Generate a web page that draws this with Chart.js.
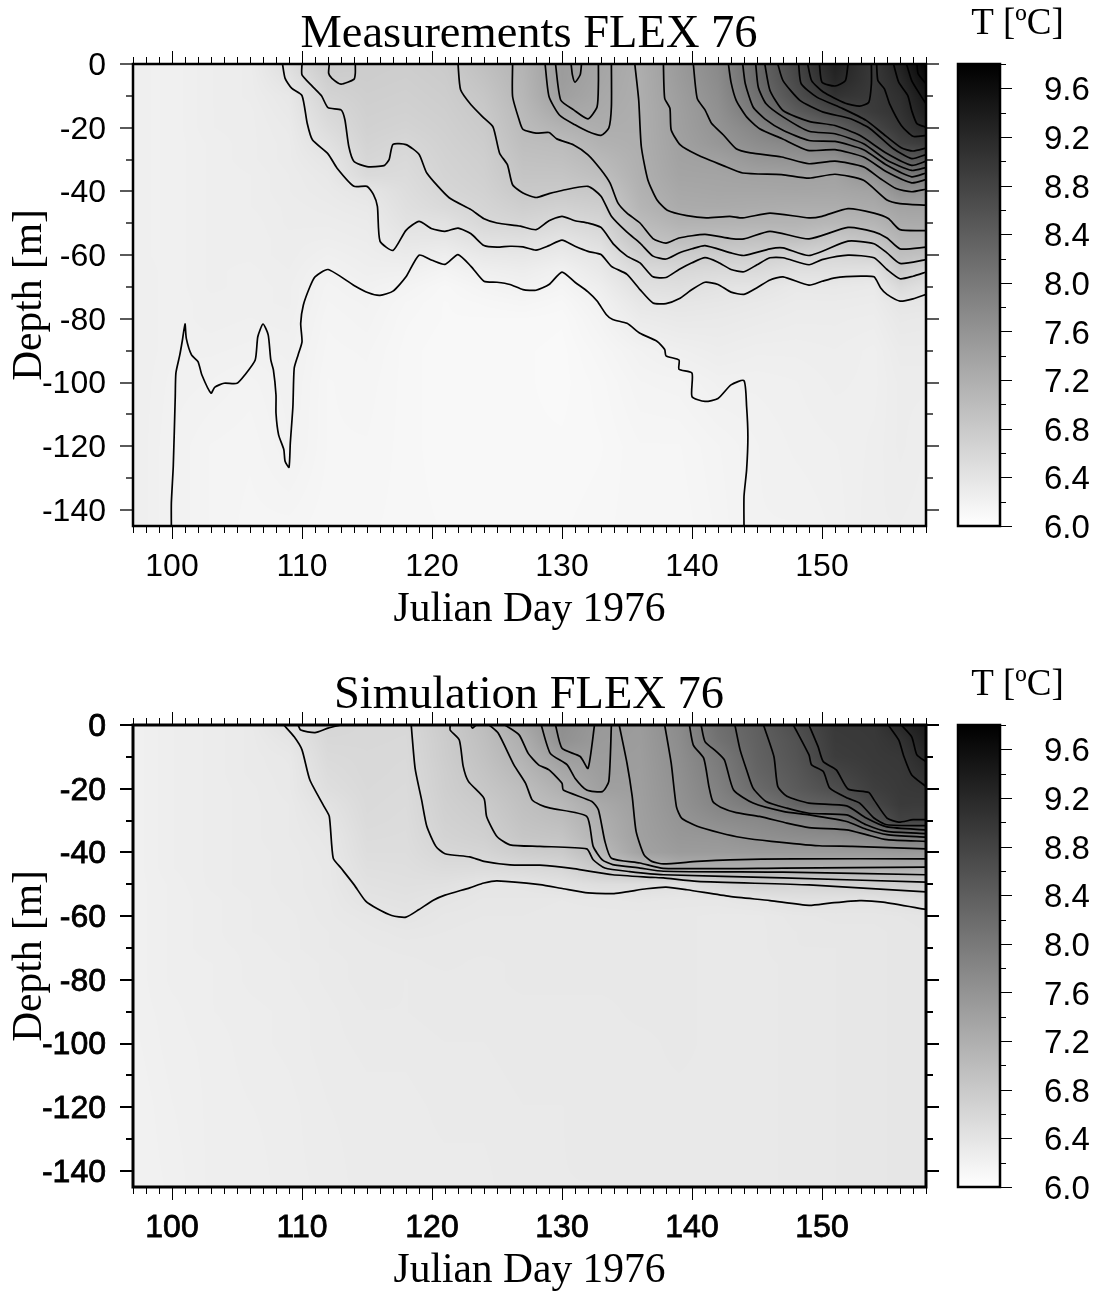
<!DOCTYPE html>
<html>
<head>
<meta charset="UTF-8">
<title>FLEX 76</title>
<style>
	html, body { margin: 0; padding: 0; background: #fff; }
	body { position: relative; width: 1095px; height: 1293px; overflow: hidden; }
	canvas { position: absolute; }
</style>
</head>
<body>
	<canvas id="measChart" width="1058" height="640" style="left:0;top:0"></canvas>
	<canvas id="measBar" width="155" height="640" style="left:940px;top:0"></canvas>
	<canvas id="simChart" width="1058" height="640" style="left:0;top:661px"></canvas>
	<canvas id="simBar" width="155" height="640" style="left:940px;top:661px"></canvas>

	<script src="https://cdn.jsdelivr.net/npm/chart.js"></script>
	<script>
		// axis values
		const dayTicks = [100, 110, 120, 130, 140, 150];
		const depthTicks = [0, -20, -40, -60, -80, -100, -120, -140];
		const dayMinorTicks = [97,98,99,101,102,103,104,105,106,107,108,109,111,112,113,114,115,116,117,118,119,121,122,123,124,125,126,127,128,129,131,132,133,134,135,136,137,138,139,141,142,143,144,145,146,147,148,149,151,152,153,154,155,156,157,158];
		const depthMinorTicks = [-10, -30, -50, -70, -90, -110, -130];
		const tempTicks = [6.0, 6.4, 6.8, 7.2, 7.6, 8.0, 8.4, 8.8, 9.2, 9.6];
		const tempMinorTicks = [6.2, 6.6, 7.0, 7.4, 7.8, 8.2, 8.6, 9.0, 9.4, 9.8];

		// temperature table, one list per day
		const days = [97,100,103,106,109,112,115,118,121,124,127,130,133,136,139,142,145,148,151,154,156,158];
		const depths = [0,-5,-10,-15,-20,-25,-30,-35,-40,-45,-50,-55,-60,-65,-70,-75,-80,-90,-100,-120,-145];

		const measField = [
			[6.24,6.24,6.24,6.24,6.24,6.24,6.24,6.24,6.24,6.24,6.24,6.24,6.24,6.25,6.25,6.25,6.25,6.25,6.25,6.25,6.25],
			[6.22,6.22,6.22,6.22,6.22,6.22,6.22,6.22,6.22,6.22,6.22,6.22,6.22,6.22,6.22,6.22,6.22,6.22,6.21,6.2,6.2],
			[6.26,6.26,6.26,6.26,6.26,6.25,6.25,6.25,6.25,6.25,6.25,6.25,6.25,6.25,6.25,6.24,6.24,6.22,6.2,6.17,6.17],
			[6.28,6.28,6.28,6.27,6.27,6.27,6.27,6.26,6.26,6.26,6.25,6.25,6.25,6.24,6.24,6.24,6.23,6.21,6.18,6.16,6.15],
			[6.5,6.42,6.35,6.33,6.31,6.3,6.3,6.29,6.29,6.28,6.28,6.27,6.27,6.26,6.25,6.25,6.24,6.22,6.21,6.2,6.15],
			[6.8,6.72,6.65,6.58,6.52,6.45,6.38,6.34,6.32,6.3,6.28,6.26,6.23,6.2,6.18,6.17,6.16,6.15,6.14,6.14,6.13],
			[6.75,6.74,6.72,6.7,6.68,6.65,6.61,6.55,6.38,6.33,6.3,6.28,6.26,6.24,6.21,6.19,6.18,6.16,6.15,6.14,6.13],
			[6.74,6.72,6.7,6.68,6.65,6.6,6.56,6.53,6.5,6.47,6.43,6.37,6.3,6.23,6.17,6.14,6.13,6.12,6.12,6.12,6.12],
			[6.78,6.76,6.74,6.72,6.7,6.68,6.66,6.64,6.61,6.55,6.44,6.36,6.26,6.17,6.12,6.11,6.11,6.1,6.1,6.1,6.11],
			[6.95,6.9,6.85,6.81,6.78,6.75,6.72,6.7,6.67,6.63,6.58,6.46,6.34,6.24,6.17,6.13,6.11,6.1,6.1,6.1,6.11],
			[7.12,7.1,7.08,7.04,7.01,6.97,6.92,6.87,6.81,6.72,6.62,6.48,6.36,6.27,6.21,6.15,6.11,6.1,6.1,6.1,6.11],
			[7.48,7.47,7.43,7.3,7.14,7.0,6.94,6.87,6.8,6.68,6.55,6.41,6.31,6.21,6.16,6.12,6.1,6.09,6.09,6.1,6.11],
			[7.35,7.33,7.3,7.27,7.22,7.15,7.05,6.96,6.83,6.73,6.62,6.51,6.39,6.33,6.26,6.21,6.18,6.14,6.12,6.11,6.12],
			[7.22,7.21,7.21,7.2,7.2,7.2,7.19,7.18,7.15,7.1,7.0,6.9,6.72,6.55,6.45,6.36,6.3,6.2,6.17,6.14,6.14],
			[7.5,7.48,7.45,7.43,7.42,7.4,7.38,7.35,7.3,7.25,7.14,6.98,6.76,6.58,6.48,6.38,6.33,6.24,6.18,6.14,6.13],
			[7.75,7.72,7.68,7.64,7.6,7.55,7.42,7.36,7.32,7.26,7.13,6.96,6.75,6.55,6.42,6.36,6.32,6.27,6.22,6.17,6.16],
			[8.25,8.22,8.14,8.02,7.82,7.7,7.56,7.39,7.32,7.24,7.12,6.92,6.72,6.55,6.4,6.33,6.3,6.25,6.22,6.2,6.2],
			[8.78,8.72,8.62,8.43,8.14,7.8,7.6,7.4,7.33,7.22,7.12,6.95,6.65,6.47,6.33,6.3,6.28,6.25,6.23,6.22,6.2],
			[9.33,9.23,9.05,8.72,8.35,7.95,7.63,7.38,7.32,7.22,7.06,6.82,6.6,6.46,6.34,6.3,6.28,6.26,6.25,6.23,6.22],
			[8.95,8.95,8.95,8.93,8.75,8.43,7.95,7.62,7.37,7.26,7.1,6.9,6.66,6.43,6.32,6.29,6.27,6.24,6.24,6.25,6.26],
			[9.3,9.19,9.1,9.05,8.98,8.82,8.4,7.97,7.65,7.37,7.25,7.1,6.95,6.78,6.55,6.38,6.34,6.3,6.28,6.28,6.26],
			[9.75,9.62,9.47,9.36,9.2,8.92,8.5,8.0,7.6,7.38,7.26,7.12,6.92,6.62,6.45,6.37,6.33,6.3,6.28,6.26,6.25]
		];

		const simField = [
			[6.22,6.22,6.22,6.22,6.22,6.22,6.22,6.22,6.22,6.22,6.22,6.22,6.22,6.22,6.22,6.22,6.22,6.22,6.21,6.2,6.2],
			[6.26,6.26,6.26,6.26,6.26,6.26,6.26,6.26,6.26,6.26,6.25,6.25,6.25,6.25,6.25,6.25,6.25,6.24,6.24,6.23,6.22],
			[6.28,6.28,6.28,6.28,6.28,6.28,6.28,6.28,6.28,6.28,6.28,6.27,6.27,6.27,6.27,6.26,6.26,6.26,6.25,6.25,6.25],
			[6.31,6.31,6.31,6.31,6.3,6.3,6.3,6.3,6.3,6.3,6.3,6.29,6.29,6.29,6.28,6.28,6.28,6.27,6.27,6.26,6.25],
			[6.45,6.38,6.34,6.33,6.33,6.32,6.32,6.32,6.31,6.31,6.31,6.31,6.3,6.3,6.3,6.29,6.29,6.28,6.28,6.27,6.27],
			[6.62,6.58,6.55,6.52,6.49,6.43,6.39,6.36,6.35,6.34,6.34,6.33,6.33,6.32,6.32,6.31,6.31,6.3,6.3,6.29,6.28],
			[6.58,6.58,6.57,6.57,6.56,6.55,6.54,6.52,6.5,6.47,6.44,6.41,6.36,6.34,6.33,6.33,6.33,6.32,6.31,6.3,6.3],
			[6.58,6.57,6.56,6.55,6.54,6.53,6.52,6.51,6.5,6.48,6.46,6.43,6.4,6.36,6.34,6.33,6.32,6.32,6.31,6.3,6.3],
			[6.78,6.76,6.75,6.73,6.72,6.7,6.68,6.65,6.6,6.53,6.45,6.39,6.36,6.35,6.34,6.34,6.33,6.33,6.32,6.31,6.3],
			[6.98,6.95,6.92,6.88,6.84,6.78,6.74,6.7,6.63,6.52,6.39,6.36,6.35,6.34,6.34,6.33,6.33,6.33,6.32,6.31,6.3],
			[7.32,7.2,7.14,7.06,6.98,6.94,6.9,6.85,6.74,6.56,6.39,6.36,6.35,6.35,6.34,6.34,6.34,6.33,6.33,6.32,6.32],
			[7.68,7.64,7.45,7.3,7.18,7.05,6.97,6.88,6.78,6.6,6.44,6.35,6.34,6.34,6.34,6.34,6.34,6.33,6.33,6.32,6.32],
			[7.52,7.5,7.48,7.46,7.42,7.28,7.2,7.15,7.03,6.82,6.5,6.36,6.34,6.34,6.34,6.34,6.34,6.33,6.33,6.33,6.32],
			[7.48,7.47,7.46,7.45,7.44,7.43,7.42,7.41,7.38,7.0,6.5,6.37,6.34,6.34,6.34,6.34,6.34,6.34,6.33,6.33,6.33],
			[7.72,7.7,7.68,7.66,7.64,7.62,7.58,7.54,7.48,7.2,6.45,6.36,6.34,6.34,6.34,6.34,6.34,6.34,6.34,6.33,6.33],
			[8.15,8.1,7.98,7.93,7.88,7.82,7.7,7.56,7.48,7.18,6.58,6.36,6.33,6.33,6.33,6.33,6.33,6.33,6.33,6.33,6.33],
			[8.38,8.36,8.34,8.3,8.22,8.0,7.76,7.65,7.5,7.17,6.7,6.39,6.33,6.33,6.33,6.33,6.33,6.33,6.33,6.33,6.33],
			[8.65,8.58,8.55,8.5,8.45,8.32,7.86,7.7,7.5,7.18,6.63,6.44,6.36,6.35,6.35,6.34,6.34,6.34,6.34,6.34,6.34],
			[8.95,8.93,8.9,8.78,8.65,8.4,7.98,7.72,7.5,7.18,6.65,6.43,6.37,6.36,6.35,6.35,6.35,6.35,6.35,6.35,6.35],
			[8.97,8.96,8.95,8.93,8.88,8.75,8.5,7.8,7.5,7.18,6.68,6.42,6.37,6.36,6.36,6.36,6.36,6.36,6.36,6.36,6.36],
			[9.2,9.05,8.98,8.96,8.95,8.93,8.82,7.95,7.52,7.2,6.7,6.45,6.38,6.37,6.37,6.37,6.37,6.37,6.37,6.37,6.37],
			[9.4,9.32,9.2,9.08,8.98,8.92,8.8,8.0,7.5,7.18,6.7,6.5,6.39,6.38,6.38,6.37,6.37,6.37,6.37,6.37,6.37]
		];

		// measured isotherms, [day, depth], named by temperature
		const m62 = [[99.95,-145],[99.95,-137.8],[100.1,-126],[100.25,-104.4],[100.3,-97],[100.6,-91.3],[100.8,-86.7],[101,-81.6],[101.1,-86.1],[101.5,-91.3],[102,-93.4],[102.3,-97.6],[103,-103.3],[103.3,-101.4],[104,-100.2],[105,-100.2],[105.6,-97.6],[106.4,-92.9],[106.6,-85.6],[107,-81.6],[107.4,-85],[107.6,-92.9],[107.8,-96],[108,-103.9],[108,-109.6],[108.2,-116.4],[108.6,-121],[108.7,-124.7],[109,-126.6],[109.1,-119],[109.3,-107.5],[109.4,-95.5],[109.7,-91.3],[110,-87.2],[109.9,-81.4],[110.1,-75.7],[110.6,-70],[111,-66.8],[112,-64.5],[114,-69.5],[115.1,-71.8],[116,-72.6],[117,-71.3],[118,-66.8],[119,-60],[120,-61.6],[121,-62.9],[122,-59.8],[123,-63.5],[124,-68.2],[125,-68.5],[126,-69.2],[127,-70.8],[128,-71],[129,-69.2],[130,-65.3],[131,-68.5],[132,-71.5],[132.7,-74.4],[133.4,-78.6],[133.9,-80.2],[135,-81.4],[136,-84.5],[137.3,-87],[137.9,-89.6],[138,-91.6],[139,-92.9],[139,-95.8],[140,-97],[140,-104.4],[141,-105.9],[142,-105],[143,-100.7],[144,-99.4],[144.2,-107.5],[144.3,-116.9],[144.2,-127.4],[144,-135.7],[144,-145]];
		const m64 = [[108.5,0],[108.7,-4.5],[109.2,-7.6],[110,-9.9],[110.4,-18.6],[110.8,-23.8],[112,-28.2],[112.7,-32.7],[114,-38.4],[115,-38.4],[115.5,-41],[115.8,-44.7],[116,-55.6],[117,-58.5],[118,-52.2],[119,-49.4],[120,-51.7],[121,-52.5],[122,-51.5],[123,-53.3],[124,-57],[125,-57.5],[126,-57.2],[127,-57.4],[128,-58.4],[129,-57],[130,-55.3],[131,-57.2],[132,-58.8],[133,-59.8],[133.8,-63.5],[135,-66],[136,-70.8],[137,-75],[138,-75.2],[139,-73.7],[140,-70.8],[141,-68.5],[142,-69.2],[143,-71.6],[144,-72.3],[145,-70.2],[146,-67.8],[147,-66.8],[149,-69.4],[150,-68.2],[151,-67.1],[153,-66.6],[154,-66.8],[154.5,-70.2],[155,-72.3],[156,-74.4],[157,-73.7],[158,-72.3]];
		const m66 = [[110,0],[110,-3.4],[110.8,-7],[111.5,-10],[112,-13.7],[113,-14.4],[113.3,-17.5],[113.6,-25.9],[114,-30.6],[115,-32.2],[116.3,-31.9],[116.7,-30],[117,-25.2],[118,-25.3],[119,-28.3],[119.6,-34.2],[121.3,-41.9],[123,-45.7],[124,-48.6],[125,-49.9],[126.8,-50.9],[128,-52],[129,-49.2],[130,-47.8],[131,-49.2],[132,-49.9],[133,-51.3],[134,-56.7],[135,-60.3],[136,-62.4],[137,-66.8],[138,-67],[139,-64.5],[140,-62.4],[141,-60.8],[142,-62.2],[143,-64.5],[144,-65.2],[145,-63],[146,-60.8],[147,-60.8],[149,-63],[150,-61.4],[152,-60],[154,-60.8],[155,-64.5],[156,-67.4],[157,-66.6],[158,-65.3]];
		const m68 = [[122,0],[122.2,-8.1],[123,-12.8],[124,-17],[124.7,-19.8],[125.2,-28],[125.8,-31.6],[126.2,-37.9],[127,-40.5],[128,-41.9],[129,-40.7],[130,-39.7],[132,-38.4],[133,-41.5],[133.8,-47.8],[135,-52.8],[136,-56.2],[137,-60.3],[138,-61.2],[139,-59.3],[140,-58],[141,-57],[143,-59.3],[144,-60.1],[146,-58],[147,-57.7],[149,-60.1],[152,-55.6],[154,-56.4],[155,-59.3],[156,-62.6],[158,-61.4]];
		const m68Blob = [[112.1,0],[112.05,-2.9],[112.3,-4.5],[113,-6.3],[114,-4.8],[114.1,-2.9],[114.1,0]];
		const m70 = [[126.2,0],[126.2,-10.2],[126.7,-17.5],[127,-20.5],[128,-21.7],[129,-21.5],[129.6,-23.5],[130.9,-25.4],[132,-28.5],[133,-33.2],[133.7,-37.4],[134.3,-43.6],[135,-46.8],[136,-49.9],[137,-54.8],[138,-56.2],[139,-54.6],[141,-53.5],[143,-54.8],[144,-54.9],[146,-52.5],[149,-54.9],[152,-51.3],[154,-52.7],[155,-54.6],[156,-58],[158,-57.5]];
		const m72Loop = [[128.7,0],[129,-10.2],[129.8,-16],[131,-19.1],[132,-21.2],[133,-22.4],[133.6,-20.1],[133.8,-13.4],[133.8,0]];
		const m74Loop = [[129.5,0],[129.9,-11.3],[130.9,-14.4],[132,-17.2],[132.7,-13.4],[132.8,-6],[132.8,0]];
		const m76Loop = [[130.7,0],[130.8,-3.4],[131,-5.7],[131.4,-3.4],[131.5,0]];
		const m72 = [[135.6,0],[135.9,-11.3],[136.1,-25.9],[136.6,-36.3],[137.3,-42.6],[138.1,-45.9],[139.6,-47.6],[141.1,-48.3],[142.9,-47.8],[143.9,-48.3],[146,-46.8],[149,-48.3],[150,-47.8],[152,-45.4],[154,-46.8],[155.1,-48.5],[156,-52],[158,-52.3]];
		const m74 = [[137.8,0],[137.9,-10.8],[138.3,-13.9],[138.4,-20.7],[139.1,-25.4],[140.4,-28.5],[142.4,-31.9],[143.9,-34.2],[146.9,-34.7],[149,-35.8],[151,-34.6],[153.2,-36.5],[155,-42.7],[156,-43.8],[158,-44.3]];
		const m76 = [[140.1,0],[140.4,-10.8],[141,-14.4],[141.5,-18.6],[142.4,-22.2],[143.4,-26.6],[144.5,-27.9],[146.9,-29.2],[149,-31.3],[151,-30.5],[153.2,-32.3],[154.5,-36],[155.7,-39.1],[156.9,-40.1],[158,-39.3]];
		const m78 = [[142.8,0],[143,-5.7],[143.4,-11.4],[144.2,-16.6],[145.2,-20.3],[146.9,-23.4],[148.9,-27.1],[151,-26.9],[153.2,-29.2],[155,-33.9],[156.9,-37.3],[158,-36.3]];
		const m80 = [[143.9,0],[144.1,-6.2],[144.7,-13.5],[145.6,-17.2],[147,-20.8],[149,-24],[151,-24.3],[153.2,-26.9],[155,-31.8],[156.9,-35.4],[158,-34.2]];
		const m82 = [[144.9,0],[145.1,-7.3],[145.7,-12.5],[147,-16.6],[149,-21.1],[151,-21.9],[153.2,-25],[155,-30.2],[156.9,-33.4],[158,-32.5]];
		const m84 = [[145.6,0],[146,-8.3],[147,-14.6],[149,-18],[151,-19.3],[152.9,-22.4],[155,-28.1],[156.9,-31.8],[158,-30.5]];
		const m86 = [[146.6,0],[147,-5.2],[148.3,-11.4],[150.1,-15.1],[152.2,-17.2],[153.7,-20.3],[155.5,-26.6],[156.9,-29.7],[158,-28.4]];
		const m88 = [[148.2,0],[148.4,-6.2],[149.6,-10.4],[151.6,-14],[153.4,-17.7],[154.7,-21.9],[156.1,-26.3],[157,-27.3],[158,-26.4]];
		const m90Loop = [[148.9,0],[149.2,-5.2],[150.1,-8.8],[151.8,-12.3],[152.9,-13.2],[153.6,-12],[153.8,-6.2],[153.8,0]];
		const m92Blob = [[149.8,0],[150,-5.7],[151,-6.9],[151.8,-5.2],[152,0]];
		const m90 = [[154.2,0],[154.3,-5.2],[154.8,-7.8],[155.2,-12.5],[156.1,-19.3],[157,-22.7],[158,-22.4]];
		const m92 = [[155.5,0],[155.9,-5.7],[156.6,-9.9],[156.9,-14.6],[157.3,-18.7],[158,-19.8]];
		const m94 = [[156.5,0],[156.9,-5.2],[157.5,-9.3],[158,-12.5]];
		const m96 = [[157.3,0],[157.4,-3.1],[158,-6.2]];
		const measLines = [m62,m64,m66,m68,m68Blob,m70,m72Loop,m74Loop,m76Loop,m72,m74,m76,m78,m80,m82,m84,m86,m88,m90Loop,m92Blob,m90,m92,m94,m96];

		// simulated isotherms
		const s64 = [[108.6,0],[109.4,-3.7],[110,-7.8],[110.6,-17.2],[111.7,-25.6],[112.1,-28.7],[112.4,-41.8],[113,-44.9],[114,-50.1],[114.9,-55.3],[115.8,-57.7],[116.9,-59.8],[118,-60.3],[119,-57.9],[120.1,-55],[121,-53.4],[122.9,-51.1],[124,-49.6],[125,-48.9],[128.3,-50.1],[130.1,-51.4],[132,-52.7],[134,-52.9],[135.2,-52.2],[136.5,-51.4],[138,-50.9],[139.6,-51.7],[142.9,-53.8],[146,-55.1],[149,-56.6],[150.6,-55.9],[152.9,-55.1],[154.7,-55.6],[158,-57.9]];
		const s66Blob = [[109.7,0],[109.9,-1.6],[111,-2.4],[112,-1],[113,0]];
		const s66 = [[118.4,0],[118.7,-13.6],[119.2,-23.5],[119.6,-31.8],[120.3,-38.1],[121,-40.4],[122.9,-41.4],[124,-42.8],[126,-43.9],[128.3,-44],[130.9,-45.1],[133.9,-47],[136.9,-47.8],[137.8,-48],[140.4,-49.1],[149,-50.2],[158,-52.4]];
		const s66Notch = [[123,0],[123.1,-1],[123.4,0]];
		const s68 = [[121.4,0],[121.4,-1.6],[122.1,-4.7],[122.4,-13],[122.8,-17.7],[124,-23],[124.2,-28.7],[125,-35],[126,-37.6],[128.3,-38.1],[131.9,-38.9],[132.4,-42.3],[133.3,-44.9],[135.2,-46],[137.8,-47],[147,-48],[158,-49.3]];
		const s70 = [[124.4,0],[125.1,-2.6],[126.3,-12.5],[127.2,-18.3],[127.7,-23.5],[128.3,-25],[129.1,-26.1],[131.9,-28.7],[132.4,-38.1],[133.1,-42.3],[133.9,-43.8],[136,-44.9],[137.8,-45.9],[147,-46.2],[158,-47]];
		const s72 = [[125.6,0],[126.7,-3.1],[127.4,-8.9],[128.2,-12.5],[129,-14.1],[130,-18.3],[130.1,-20.4],[132.3,-24],[132.8,-26.6],[133.3,-36.5],[133.8,-41.8],[136,-43.3],[137.8,-45],[147,-44.9],[158,-44.6]];
		const s74Loop = [[128.4,0],[129.1,-8.9],[130.4,-12.5],[131,-16.7],[131.9,-20.4],[133.1,-20.9],[133.6,-17.7],[133.8,0]];
		const s76Loop = [[129.5,0],[130,-7.3],[131.4,-9.9],[132,-13.6],[132.5,0]];
		const s74 = [[134.4,0],[135,-12],[135.4,-22.4],[135.7,-33.4],[136.3,-40.7],[136.9,-42.8],[137.8,-43.6],[140.4,-42.8],[142.9,-42.3],[147.8,-42],[158,-42]];
		const s76 = [[137.9,0],[138.4,-12],[138.8,-25.6],[139.2,-29.2],[140.4,-31.8],[142.2,-33.9],[143.8,-35.3],[146.1,-36.5],[149.8,-37.9],[152.3,-38.1],[158,-38.9]];
		const s78 = [[139.8,0],[140.1,-6.3],[140.9,-10.4],[141.3,-19.3],[141.6,-24],[142.2,-25.8],[143.4,-27.5],[145.2,-28.7],[147.3,-30.8],[149,-32.2],[151.9,-32.9],[153.4,-34.4],[155,-36],[158,-36.5]];
		const s80 = [[140.7,0],[141,-5.2],[141.9,-8.4],[142.5,-11],[143.2,-20.4],[144.7,-24.5],[147,-27.1],[149,-28.2],[151.9,-30.3],[153.4,-32.7],[155,-34.4],[158,-35.2]];
		const s82 = [[143.3,0],[143.7,-7.8],[144.2,-14.1],[144.7,-19.8],[145.7,-24],[147.3,-26.1],[149,-27.7],[151.9,-28.2],[153.4,-31.3],[155,-33.4],[158,-34.1]];
		const s84 = [[145.5,0],[146.3,-9.9],[146.6,-19.3],[147.3,-22.4],[149,-24.5],[151.9,-25.4],[153.4,-29.2],[155,-32],[158,-32.9]];
		const s86 = [[147.8,0],[149,-9.4],[149.2,-12.5],[150.1,-14.6],[150.6,-19.8],[152,-23],[152.9,-24.5],[154,-29.2],[155,-31.3],[158,-31.6]];
		const s88 = [[149,0],[149.7,-6.8],[150.1,-11.5],[151.1,-14.1],[152,-20.1],[153.6,-21.2],[154,-23.5],[155,-29.2],[155.9,-30.5],[157,-29.7],[158,-29.7]];
		const s90 = [[155.1,0],[155.9,-4.7],[156.3,-9.9],[156.9,-15.7],[158,-19.3]];
		const s92 = [[156.1,0],[156.9,-3.7],[157.3,-9.4],[158,-11.5]];
		const simLines = [s64,s66Blob,s66,s66Notch,s68,s70,s72,s74Loop,s76Loop,s74,s76,s78,s80,s82,s84,s86,s88,s90,s92];

		const tempMin = 6.0;
		const tempMax = 9.8;

		function greyOf(t) {
			return Math.max(0, Math.min(255, Math.round(255 * (1 - (t - tempMin) / (tempMax - tempMin)))));
		}

		function findCell(list, v, descending) {
			for (let i = 0; i < list.length - 1; i++) {
				if (descending ? v >= list[i + 1] : v <= list[i + 1]) return i;
			}
			return list.length - 2;
		}

		function tempAt(field, day, depth) {
			const i = findCell(days, day, false);
			const j = findCell(depths, depth, true);
			const u = (day - days[i]) / (days[i + 1] - days[i]);
			const v = (depth - depths[j]) / (depths[j + 1] - depths[j]);
			const top = field[i][j] * (1 - u) + field[i + 1][j] * u;
			const bot = field[i][j + 1] * (1 - u) + field[i + 1][j + 1] * u;
			return top * (1 - v) + bot * v;
		}

		// grey field behind the isotherms
		const fieldPlugin = {
			id: 'tempField',
			beforeDatasetsDraw(chart, args, opts) {
				const a = chart.chartArea;
				const xs = chart.scales.x, ys = chart.scales.y;
				const off = document.createElement('canvas');
				off.width = Math.round(a.right - a.left);
				off.height = Math.round(a.bottom - a.top);
				const octx = off.getContext('2d');
				const img = octx.createImageData(off.width, off.height);
				for (let py = 0; py < off.height; py++) {
					const depth = ys.getValueForPixel(a.top + py + 0.5);
					for (let px = 0; px < off.width; px++) {
						const day = xs.getValueForPixel(a.left + px + 0.5);
						const g = greyOf(tempAt(opts.field, day, depth));
						const k = (py * off.width + px) * 4;
						img.data[k] = g; img.data[k + 1] = g; img.data[k + 2] = g; img.data[k + 3] = 255;
					}
				}
				octx.putImageData(img, 0, 0);
				chart.ctx.drawImage(off, a.left, a.top);
			}
		};

		// frame and outward ticks, on all four sides
		const framePlugin = {
			id: 'frameTicks',
			afterDraw(chart, args, opts) {
				const ctx = chart.ctx, a = chart.chartArea;
				const xs = chart.scales.x, ys = chart.scales.y;
				ctx.save();
				ctx.strokeStyle = '#000';
				function tick(x1, y1, x2, y2, w) {
					ctx.lineWidth = w;
					ctx.beginPath();
					ctx.moveTo(x1, y1);
					ctx.lineTo(x2, y2);
					ctx.stroke();
				}
				dayMinorTicks.forEach(function(d) {
					const x = Math.round(xs.getPixelForValue(d)) + 0.5;
					tick(x, a.bottom, x, a.bottom + 7, 1);
					tick(x, a.top, x, a.top - 7, 1);
				});
				dayTicks.forEach(function(d) {
					const x = Math.round(xs.getPixelForValue(d)) + 0.5;
					tick(x, a.bottom, x, a.bottom + 13, 1);
					tick(x, a.top, x, a.top - 13, 1);
				});
				depthMinorTicks.forEach(function(d) {
					const y = Math.round(ys.getPixelForValue(d));
					tick(a.left, y, a.left - 7, y, opts.tickWidth);
					tick(a.right, y, a.right + 7, y, opts.tickWidth);
				});
				depthTicks.forEach(function(d) {
					const y = Math.round(ys.getPixelForValue(d));
					tick(a.left, y, a.left - 13, y, opts.tickWidth);
					tick(a.right, y, a.right + 13, y, opts.tickWidth);
				});
				ctx.lineWidth = opts.frameWidth;
				ctx.strokeRect(a.left, a.top, a.right - a.left, a.bottom - a.top);
				ctx.restore();
			}
		};

		const barTickPlugin = {
			id: 'barTicks',
			afterDraw(chart) {
				const ctx = chart.ctx, a = chart.chartArea, ys = chart.scales.y;
				ctx.save();
				ctx.strokeStyle = '#000';
				ctx.lineWidth = 1;
				tempMinorTicks.forEach(function(t) {
					const y = Math.round(ys.getPixelForValue(t)) + 0.5;
					ctx.beginPath(); ctx.moveTo(a.right, y); ctx.lineTo(a.right + 6, y); ctx.stroke();
				});
				tempTicks.forEach(function(t) {
					const y = Math.round(ys.getPixelForValue(t)) + 0.5;
					ctx.beginPath(); ctx.moveTo(a.right, y); ctx.lineTo(a.right + 12, y); ctx.stroke();
				});
				ctx.lineWidth = 2.5;
				ctx.strokeRect(a.left, a.top, a.right - a.left, a.bottom - a.top);
				ctx.restore();
			}
		};

		function makePanel(id, titleText, lines, field, heavy) {
			const datasets = lines.map(function(line) {
				return {
					data: line.map(function(p) { return { x: p[0], y: p[1] }; }),
					yAxisID: 'y',
					showLine: true,
					borderColor: '#000',
					borderWidth: 1.7,
					pointRadius: 0,
					tension: 0.2
				};
			});
			const tickFont = { family: '"Liberation Sans"', size: 32 };
			const stroke = heavy ? 0.8 : 0;
			return new Chart(document.getElementById(id), {
				type: 'scatter',
				data: { datasets: datasets },
				plugins: [fieldPlugin, framePlugin],
				options: {
					responsive: false,
					animation: false,
					events: [],
					plugins: {
						legend: { display: false },
						tooltip: { enabled: false },
						title: {
							display: true,
							text: titleText,
							color: '#000',
							font: { family: '"Liberation Serif"', size: 46.5, weight: 'normal', lineHeight: 1 },
							padding: { top: 11.5, bottom: 6 }
						},
						tempField: { field: field },
						frameTicks: { tickWidth: heavy ? 2 : 1.3, frameWidth: heavy ? 3 : 2.5 }
					},
					scales: {
						x: {
							type: 'linear',
							min: 97,
							max: 158,
							afterBuildTicks: function(s) { s.ticks = dayTicks.map(function(v) { return { value: v }; }); },
							afterFit: function(s) { s.height = 114; },
							grid: { display: false, drawTicks: false },
							border: { display: false },
							ticks: { color: '#000', font: tickFont, padding: 22, maxRotation: 0, autoSkip: false, textStrokeColor: '#000', textStrokeWidth: stroke },
							title: {
								display: true,
								text: 'Julian Day 1976',
								color: '#000',
								font: { family: '"Liberation Serif"', size: 41.5, lineHeight: 1 },
								padding: { top: 0, bottom: 9 }
							}
						},
						y: {
							type: 'linear',
							min: -145,
							max: 0,
							afterBuildTicks: function(s) { s.ticks = depthTicks.map(function(v) { return { value: v }; }); },
							afterFit: function(s) { s.width = 133; },
							grid: { display: false, drawTicks: false },
							border: { display: false },
							ticks: { color: '#000', font: tickFont, padding: 27, labelOffset: 2, autoSkip: false, textStrokeColor: '#000', textStrokeWidth: stroke },
							title: {
								display: true,
								text: 'Depth [m]',
								color: '#000',
								font: { family: '"Liberation Serif"', size: 41.5, lineHeight: 1 },
								padding: { top: 9, bottom: 0 }
							}
						},
						// empty axis, keeps the title centred over the plot
						yRight: {
							type: 'linear',
							position: 'right',
							display: true,
							afterFit: function(s) { s.width = 132; },
							grid: { display: false, drawTicks: false },
							border: { display: false },
							ticks: { display: false }
						}
					}
				}
			});
		}

		function makeBar(id) {
			return new Chart(document.getElementById(id), {
				type: 'bar',
				data: {
					labels: ['T'],
					datasets: [{
						data: [[tempMin, tempMax]],
						yAxisID: 'y',
						barPercentage: 1,
						categoryPercentage: 1,
						backgroundColor: function(c) {
							const ys = c.chart.scales.y;
							if (!c.chart.chartArea || !ys) return '#888';
							const g = c.chart.ctx.createLinearGradient(0, ys.getPixelForValue(tempMin), 0, ys.getPixelForValue(tempMax));
							g.addColorStop(0, '#fff');
							g.addColorStop(1, '#000');
							return g;
						}
					}]
				},
				plugins: [barTickPlugin],
				options: {
					responsive: false,
					animation: false,
					events: [],
					layout: { padding: { bottom: 114 } },
					plugins: {
						legend: { display: false },
						tooltip: { enabled: false },
						title: {
							display: true,
							text: 'T [ºC]',
							color: '#000',
							font: { family: '"Liberation Serif"', size: 37, weight: 'normal', lineHeight: 1 },
							padding: { top: 6, bottom: 21 }
						}
					},
					scales: {
						x: { display: false },
						y: {
							type: 'linear',
							position: 'right',
							min: tempMin,
							max: tempMax,
							afterBuildTicks: function(s) { s.ticks = tempTicks.map(function(v) { return { value: v }; }); },
							afterFit: function(s) { s.width = 95; },
							grid: { display: false, drawTicks: false },
							border: { display: false },
							ticks: {
								color: '#000',
								font: { family: '"Liberation Sans"', size: 33 },
								padding: 44,
								labelOffset: 3,
								autoSkip: false,
								callback: function(v) { return v.toFixed(1); }
							}
						},
						yLeft: {
							type: 'linear',
							position: 'left',
							display: true,
							afterFit: function(s) { s.width = 18; },
							grid: { display: false, drawTicks: false },
							border: { display: false },
							ticks: { display: false }
						}
					}
				}
			});
		}

		makePanel('measChart', 'Measurements FLEX 76', measLines, measField, false);
		makeBar('measBar');
		makePanel('simChart', 'Simulation FLEX 76', simLines, simField, true);
		makeBar('simBar');
	</script>
</body>
</html>
